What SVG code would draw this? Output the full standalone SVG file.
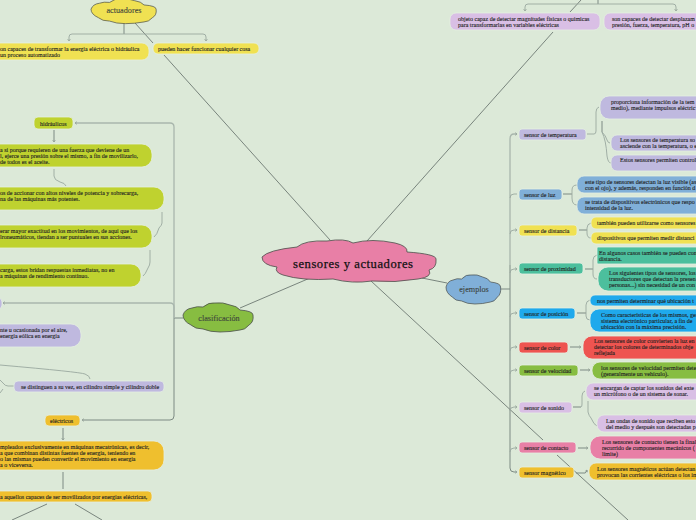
<svg xmlns="http://www.w3.org/2000/svg" width="696" height="520" viewBox="0 0 696 520">
<style>
text{font-family:"Liberation Serif","DejaVu Serif",serif;font-size:6px;fill:#222;stroke:#222;stroke-width:.1}
.n{stroke:#e4efe2;stroke-width:.8}
.c{fill:none;stroke:#9aa89f;stroke-width:.9}
.b{fill:none;stroke:#a9b6ad;stroke-width:1.3}
.d{fill:none;stroke:#5f6b66;stroke-width:.8}
.k{fill:none;stroke:#7d8a83;stroke-width:1}
.cl{stroke:#4a4f4a;stroke-width:.8;vector-effect:non-scaling-stroke}
.yl{fill:#f0e152}.ol{fill:#bfd22f}.li{fill:#d9bfe5}.pe{fill:#bfb9df}.bl{fill:#80afd8}.te{fill:#4cbf9d}.cy{fill:#1fa9ec}.re{fill:#ee5450}.gr{fill:#87bd41}.pi{fill:#e87fa6}.or{fill:#efbf2e}
.cen{font-size:12.6px;fill:#111;stroke:#111;stroke-width:.25;text-anchor:middle}
.md{font-size:8.2px;fill:#3c433c;stroke:#3c433c;text-anchor:middle}
</style>
<defs>
<marker id="a" markerWidth="4" markerHeight="4" refX="3" refY="2" orient="auto" markerUnits="userSpaceOnUse"><path d="M1 .5L3 2L1 3.5" fill="none" stroke="#8c9a91" stroke-width=".6"/></marker>
<path id="cloud" d="M0 12Q2 6 9 5Q14 3 20 4Q26-1 32 0Q40-1 47 2Q54 3 57 7Q70 8 70 12Q71 19 66 22Q62 27 57 27Q47 29 37 29Q27 29 20 26Q12 26 8 22Q0 18 0 12Z"/>
</defs>
<rect width="696" height="520" fill="#dce9d8"/>
<g id="connectors">
<path class="d" d="M135 23L153 43M164 55L330 240M367 241L553 32M570 12L581 0M240 308L310 278M422 278L447 283M371 281L543 440M557 455L628 520"/>
<path class="k" d="M124 23V34M598 0V4M174 318H183M501 289H510M510 265V345"/>
<path class="c" marker-end="url(#a)" d="M124 34H72Q69 34 69 37V41"/>
<path class="c" marker-end="url(#a)" d="M124 34H203Q206 34 206 37V41"/>
<path class="c" marker-end="url(#a)" d="M598 4H528Q525 4 525 7V11"/>
<path class="c" marker-end="url(#a)" d="M598 4H673Q676 4 676 7V11"/>
<path class="b" marker-end="url(#a)" d="M174 318V127Q174 123 170 123H75"/>
<path class="b" marker-end="url(#a)" d="M174 318V307Q174 303 170 303H3"/>
<path class="k" marker-end="url(#a)" d="M174 318V416Q174 420 170 420H82"/>
<path class="k" marker-end="url(#a)" d="M54 130V142"/>
<path class="c" d="M54 169V176Q54 180 60 182Q65 183 66 186"/>
<path class="c" d="M162 212V223Q162 225 159 228Q157 235 154 237"/>
<path class="c" d="M150 250V262Q150 265 148 268Q145 275 143 276"/>
<path class="c" d="M0 365Q80 372 85 374Q90 376 90 379M14 386H8Q5 386 3 383L0 380M3 389L0 393"/>
<path class="k" marker-end="url(#a)" d="M63 428V440"/>
<path class="k" d="M63 472V489"/>
<path class="d" d="M47 504L12 520M75 504L102 520"/>
<path class="b" marker-end="url(#a)" d="M510 265V139Q510 134 514 134H517"/>
<path class="k" marker-end="url(#a)" d="M510 345V468Q510 472 514 472H517"/>
<path class="c" marker-end="url(#a)" d="M510 198Q510 194 514 194H517M510 234Q510 230 514 230H517"/>
<path class="c" marker-end="url(#a)" d="M510 273Q510 269 514 269H517"/>
<path class="c" marker-end="url(#a)" d="M510 317Q510 313 514 313H517"/>
<path class="c" marker-end="url(#a)" d="M510 351Q510 347 514 347H517"/>
<path class="c" marker-end="url(#a)" d="M510 374Q510 370 514 370H517"/>
<path class="c" marker-end="url(#a)" d="M510 411Q510 407 514 407H517"/>
<path class="c" marker-end="url(#a)" d="M510 452Q510 448 514 448H517"/>
<path class="c" d="M587 134H594Q596 134 596 131V112Q596 108 599 107"/>
<path class="k" d="M602 121V132"/>
<path class="c" d="M602 132Q606 136 607 140Q608 143 610 143M602 132Q606 140 607 156Q608 163 611 163"/>
<path class="k" d="M563 194H572"/>
<path class="c" d="M577 185Q572 185 572 190V198Q572 205 577 205"/>
<path class="k" d="M579 230H587"/>
<path class="c" d="M591 223Q587 224 587 228V233Q587 238 591 238"/>
<path class="k" d="M585 269H593"/>
<path class="c" d="M597 255Q593 256 593 260V274Q593 279 597 279"/>
<path class="k" d="M577 313H586"/>
<path class="c" d="M590 300Q586 301 586 305V316Q586 320 590 320"/>
<path class="k" marker-end="url(#a)" d="M570 347H581"/>
<path class="k" marker-end="url(#a)" d="M580 370H590"/>
<path class="k" d="M573 407H581"/>
<path class="c" d="M581 407Q582 407 582 404V396Q582 392 585 391"/>
<path class="c" d="M588 401V412Q589 416 591 418Q594 425 597 426"/>
<path class="k" marker-end="url(#a)" d="M578 448H588"/>
<path class="k" marker-end="url(#a)" d="M576 473H585Q586 473 587 470"/>
</g>
<g id="central"><path class="cl pi" d="M262 257Q268 250 297 247Q305 240 327 241Q345 238 353 243Q372 238 395 243Q408 246 407 252Q436 254 436 259Q437 268 429 270Q433 277 418 279Q395 283 372 281Q352 284 333 279Q302 281 283 275Q274 272 277 267Q262 265 262 257Z"/><text class="cen" x="353" y="268" textLength="120">sensores y actuadores</text></g>
<g id="actuadores"><use href="#cloud" class="cl yl" transform="translate(91 -1) scale(.93 .85)"/><text class="md" x="124" y="12.500">actuadores</text></g>
<g id="clasificacion"><use href="#cloud" class="cl gr" transform="translate(183 303)"/><text class="md" x="219" y="320.500">clasificación</text></g>
<g id="ejemplos"><use href="#cloud" class="cl bl" transform="translate(446 275) scale(.78 1)"/><text class="md" x="474" y="291.500">ejemplos</text></g>

<g id="act1"><rect class="n yl" x="-20" y="43" width="169" height="17" rx="7"/><text x="0" y="50.500">on capaces de transformar la energía eléctrica o hidráulica<tspan x="0" dy="6.200">un proceso automatizado</tspan></text></g>
<g id="act2"><rect class="n yl" x="153" y="43" width="106" height="11" rx="5"/><text x="158" y="50.500">pueden hacer funcionar cualquier cosa</text></g>

<g id="hid"><rect class="n ol" x="34" y="117" width="39" height="12" rx="4"/><text x="40" y="125.500">hidráulicos</text></g>
<g id="hid1"><rect class="n ol" x="-20" y="144" width="172" height="23" rx="10"/><text x="0" y="151.700">a si porque requieren de una fuerza que deviene de un<tspan x="0" dy="6.200">l, ejerce una presión sobre el mismo, a fin de movilizarlo,</tspan><tspan x="0" dy="6.200">de todos es el aceite.</tspan></text></g>
<g id="hid2"><rect class="n ol" x="-20" y="187" width="184" height="23" rx="10"/><text x="0" y="194.700">os de accionar con altos niveles de potencia y sobrecarga,<tspan x="0" dy="6.200">na de las máquinas más potentes.</tspan></text></g>
<g id="hid3"><rect class="n ol" x="-20" y="225" width="172" height="23" rx="10"/><text x="0" y="232.700">erar mayor exactitud en los movimientos, de aquí que los<tspan x="0" dy="6.200">lroneumáticos, tiendan a ser puntuales en sus acciones.</tspan></text></g>
<g id="hid4"><rect class="n ol" x="-20" y="264" width="161" height="23" rx="10"/><text x="0" y="271.700">carga, estos bridan respuestas inmediatas, no en<tspan x="0" dy="6.200">a máquinas de rendimiento continuo.</tspan></text></g>
<g id="neu"><rect class="n pe" x="-10" y="298" width="12" height="11" rx="4"/></g>
<g id="neu1"><rect class="n pe" x="-20" y="324" width="101" height="23" rx="10"/><text x="0" y="331.700">nte u ocasionada por el aire,<tspan x="0" dy="6.200">energía eólica en energía</tspan></text></g>
<g id="neu2"><rect class="n pe" x="14" y="381" width="150" height="11" rx="4"/><text x="21" y="388.500">se distinguen a su vez, en cilindro simple y cilindro doble</text></g>
<g id="ele"><rect class="n or" x="45" y="415" width="35" height="11" rx="4"/><text x="50" y="422.500">eléctricos</text></g>
<g id="ele1"><rect class="n or" x="-20" y="441" width="184" height="29" rx="10"/><text x="0" y="448.700">mpleados exclusivamente en máquinas mecatrónicas, es decir,<tspan x="0" dy="6.200">a que combinan distintas fuentes de energía, teniendo en</tspan><tspan x="0" dy="6.200">o las mismas pueden convertir el movimiento en energía</tspan><tspan x="0" dy="6.200">a o viceversa.</tspan></text></g>
<g id="ele2"><rect class="n or" x="-20" y="491" width="172" height="11" rx="4"/><text x="0" y="498.500">a aquellos capaces de ser movilizados por energías eléctricas,</text></g>

<g id="def1"><rect class="n li" x="450" y="13" width="150" height="17" rx="6"/><text x="458" y="20.500">objeto capaz de detectar magnitudes físicas o químicas<tspan x="458" dy="6.200">para transformarlas en variables eléctricas</tspan></text></g>
<g id="def2"><rect class="n li" x="604" y="13" width="110" height="17" rx="6"/><text x="612" y="20.500">son capaces de detectar desplazam<tspan x="612" dy="6.200">presión, fuerza, temperatura, pH o</tspan></text></g>

<g id="temp"><rect class="n pe" x="519" y="129" width="67" height="11" rx="3"/><text x="524" y="136.500">sensor de temperatura</text></g>
<g id="temp1"><rect class="n pe" x="600" y="96" width="110" height="23" rx="9"/><text x="611" y="103.500">proporciona información de la tem<tspan x="611" dy="6.200">medio), mediante impulsos eléctric</tspan></text></g>
<g id="temp2"><rect class="n pe" x="611" y="135" width="100" height="16" rx="6"/><text x="620" y="142">Los sensores de temperatura so<tspan x="620" dy="6.200">asciende con la temperatura, o e</tspan></text></g>
<g id="temp3"><rect class="n pe" x="611" y="155" width="100" height="16" rx="6"/><text x="620" y="161.500">Estos sensores permiten control</text></g>

<g id="luz"><rect class="n bl" x="519" y="189" width="43" height="11" rx="3"/><text x="524" y="196.500">sensor de luz</text></g>
<g id="luz1"><rect class="n bl" x="577" y="176" width="130" height="17" rx="7"/><text x="585" y="183.500">este tipo de sensores detectan la luz visible (as<tspan x="585" dy="6.200">con el ojo), y además, responden en función d</tspan></text></g>
<g id="luz2"><rect class="n bl" x="577" y="197" width="130" height="17" rx="7"/><text x="585" y="203.500">se trata de dispositivos electrónicos que respo<tspan x="585" dy="6.200">intensidad de la luz.</tspan></text></g>

<g id="dist"><rect class="n yl" x="519" y="225" width="58" height="11" rx="3"/><text x="524" y="232.500">sensor de distancia</text></g>
<g id="dist1"><rect class="n yl" x="591" y="217" width="120" height="12" rx="5"/><text x="597" y="225">también pueden utilizarse como sensores</text></g>
<g id="dist2"><rect class="n yl" x="591" y="232" width="120" height="12" rx="5"/><text x="597" y="240">dispositivos que permiten medir distanci</text></g>

<g id="prox"><rect class="n te" x="519" y="263" width="64" height="11" rx="3"/><text x="524" y="270.500">sensor de proximidad</text></g>
<g id="prox1"><rect class="n te" x="597" y="247" width="120" height="17" rx="1"/><text x="599" y="254.500">En algunos casos también se pueden con<tspan x="599" dy="6.200">distancia.</tspan></text></g>
<g id="prox2"><rect class="n te" x="598" y="267" width="120" height="24" rx="10"/><text x="609" y="274.500">Los siguientes tipos de sensores, los<tspan x="609" dy="6.200">transductores que detectan la presen</tspan><tspan x="609" dy="6.200">personas...) sin necesidad de un con</tspan></text></g>

<g id="pos"><rect class="n cy" x="519" y="308" width="56" height="11" rx="3"/><text x="524" y="315.500">sensor de posición</text></g>
<g id="pos1"><rect class="n cy" x="590" y="295" width="120" height="11" rx="5"/><text x="597" y="302.500">nos permiten determinar qué ubicación t</text></g>
<g id="pos2"><rect class="n cy" x="590" y="309" width="120" height="23" rx="9"/><text x="601" y="316.500">Como características de los mismos, gen<tspan x="601" dy="6.200">sistema electrónico particular, a fin de</tspan><tspan x="601" dy="6.200">ubicación con la máxima precisión.</tspan></text></g>

<g id="col"><rect class="n re" x="519" y="342" width="49" height="11" rx="3"/><text x="524" y="349.500">sensor de color</text></g>
<g id="col1"><rect class="n re" x="583" y="336" width="130" height="23" rx="9"/><text x="594" y="343">Los sensores de color convierten la luz en<tspan x="594" dy="6.200">detectar los colores de determinados obje</tspan><tspan x="594" dy="6.200">reflejada</tspan></text></g>

<g id="vel"><rect class="n gr" x="519" y="365" width="59" height="11" rx="3"/><text x="524" y="372.500">sensor de velocidad</text></g>
<g id="vel1"><rect class="n gr" x="592" y="362" width="120" height="17" rx="8"/><text x="601" y="369.500">los sensores de velocidad permiten dete<tspan x="601" dy="6.200">(generalmente un vehículo).</tspan></text></g>

<g id="son"><rect class="n li" x="519" y="402" width="53" height="11" rx="3"/><text x="524" y="409.500">sensor de sonido</text></g>
<g id="son1"><rect class="n li" x="586" y="383" width="120" height="17" rx="7"/><text x="594" y="390">se encargan de captar los sonidos del exte<tspan x="594" dy="6.200">un micrófono o de un sistema de sonar.</tspan></text></g>
<g id="son2"><rect class="n li" x="597" y="415" width="120" height="17" rx="7"/><text x="606" y="422.500">Las ondas de sonido que reciben esto<tspan x="606" dy="6.200">del medio y después son detectadas p</tspan></text></g>

<g id="con"><rect class="n pi" x="519" y="442" width="57" height="11" rx="3"/><text x="524" y="449.500">sensor de contacto</text></g>
<g id="con1"><rect class="n pi" x="590" y="436" width="120" height="23" rx="10"/><text x="602" y="443.500">Los sensores de contacto tienen la final<tspan x="602" dy="6.200">recorrido de componentes mecánicos (</tspan><tspan x="602" dy="6.200">límite)</tspan></text></g>

<g id="mag"><rect class="n or" x="519" y="467" width="55" height="11" rx="3"/><text x="524" y="474.500">sensor magnético</text></g>
<g id="mag1"><rect class="n or" x="589" y="463" width="120" height="17" rx="7"/><text x="597" y="470.500">Los sensores magnéticos actúan detectan<tspan x="597" dy="6.200">provocan las corrientes eléctricas o los im</tspan></text></g>
</svg>
